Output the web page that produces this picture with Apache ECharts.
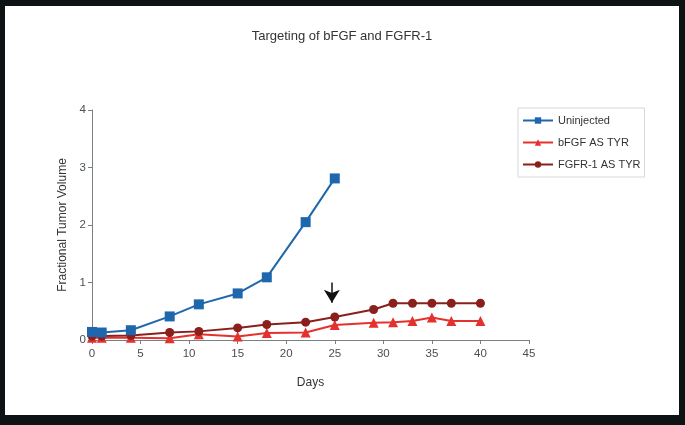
<!DOCTYPE html>
<html>
<head>
<meta charset="utf-8">
<script src="https://cdn.jsdelivr.net/npm/echarts@6/dist/echarts.min.js"></script>
<style>
  html, body { margin: 0; padding: 0; background: #0d1214; }
  #chart { position: absolute; left: 5px; top: 6px; width: 674px; height: 409px; background: #fff; }
</style>
</head>
<body>
<div id="chart"></div>
<script>
// data
var uninjDays = [0, 1, 4, 8, 11, 15, 18, 22, 25]
var uninjVals = [0.14, 0.13, 0.17, 0.41, 0.62, 0.81, 1.09, 2.05, 2.81]
var bfgfDays = [0, 1, 4, 8, 11, 15, 18, 22, 25, 29, 31, 33, 35, 37, 40]
var bfgfVals = [0.04, 0.04, 0.04, 0.03, 0.10, 0.06, 0.12, 0.13, 0.26, 0.30, 0.31, 0.33, 0.39, 0.33, 0.33]
var fgfrDays = [0, 1, 4, 8, 11, 15, 18, 22, 25, 29, 31, 33, 35, 37, 40]
var fgfrVals = [0.07, 0.07, 0.08, 0.13, 0.15, 0.21, 0.27, 0.31, 0.40, 0.53, 0.64, 0.64, 0.64, 0.64, 0.64]
var arrowDay = 24.7
var arrowFrom = 1.0
var arrowTo = 0.65

function pairs(xs, ys) {
  return xs.map(function (x, i) { return [x, ys[i]] })
}

var myChart = echarts.init(document.getElementById('chart'))
var axisGrey = '#7a7f84'
var labelGrey = '#4a4f55'
var option = {
  animation: false,
  textStyle: { fontFamily: 'Liberation Sans, Arial, sans-serif' },
  title: {
    text: 'Targeting of bFGF and FGFR-1',
    left: 'center',
    top: 19,
    textStyle: { fontSize: 13, fontWeight: 'normal', color: '#333' }
  },
  legend: {
    orient: 'vertical',
    left: 513,
    top: 102,
    itemWidth: 30,
    itemHeight: 8,
    itemGap: 11,
    padding: [7, 4, 7, 4],
    borderColor: '#d6d8da',
    borderWidth: 1,
    textStyle: { fontSize: 11, color: '#333' },
    data: ['Uninjected', 'bFGF AS TYR', 'FGFR-1 AS TYR']
  },
  grid: { left: 87, right: 150, top: 104, bottom: 75 },
  xAxis: {
    type: 'value',
    min: 0, max: 45, interval: 5,
    name: 'Days',
    nameLocation: 'middle',
    nameGap: 37,
    nameTextStyle: { fontSize: 12, color: '#333' },
    axisLine: { lineStyle: { color: axisGrey } },
    axisTick: { show: true, length: 4, lineStyle: { color: axisGrey } },
    axisLabel: { color: labelGrey, fontSize: 11.5, margin: 8 },
    splitLine: { show: false }
  },
  yAxis: {
    type: 'value',
    min: 0, max: 4, interval: 1,
    name: 'Fractional Tumor Volume',
    nameLocation: 'middle',
    nameGap: 19,
    nameTextStyle: { fontSize: 12, color: '#333' },
    axisLine: { show: true, lineStyle: { color: axisGrey } },
    axisTick: { show: true, length: 4, lineStyle: { color: axisGrey } },
    axisLabel: { color: labelGrey, fontSize: 11.5, margin: 6 },
    splitLine: { show: false }
  },
  series: [
    {
      name: 'Uninjected',
      type: 'line',
      data: pairs(uninjDays, uninjVals),
      symbol: 'rect',
      symbolSize: 10,
      color: '#1e67ad',
      lineStyle: { width: 2 },
      z: 3
    },
    {
      name: 'bFGF AS TYR',
      type: 'line',
      data: pairs(bfgfDays, bfgfVals),
      symbol: 'triangle',
      symbolSize: 10,
      color: '#e5312e',
      lineStyle: { width: 2 },
      z: 2
    },
    {
      name: 'FGFR-1 AS TYR',
      type: 'line',
      data: pairs(fgfrDays, fgfrVals),
      symbol: 'circle',
      symbolSize: 9,
      color: '#8a1f1c',
      lineStyle: { width: 2 },
      z: 2,
      markLine: {
        silent: true,
        symbol: ['none', 'arrow'],
        symbolSize: [12, 13],
        label: { show: false },
        lineStyle: { color: '#111', width: 1.5, type: 'solid' },
        data: [[{ coord: [arrowDay, arrowFrom] }, { coord: [arrowDay, arrowTo] }]]
      }
    }
  ]
}
myChart.setOption(option)
window.addEventListener('resize', function () {
  myChart.resize()
})
</script>
</body>
</html>
